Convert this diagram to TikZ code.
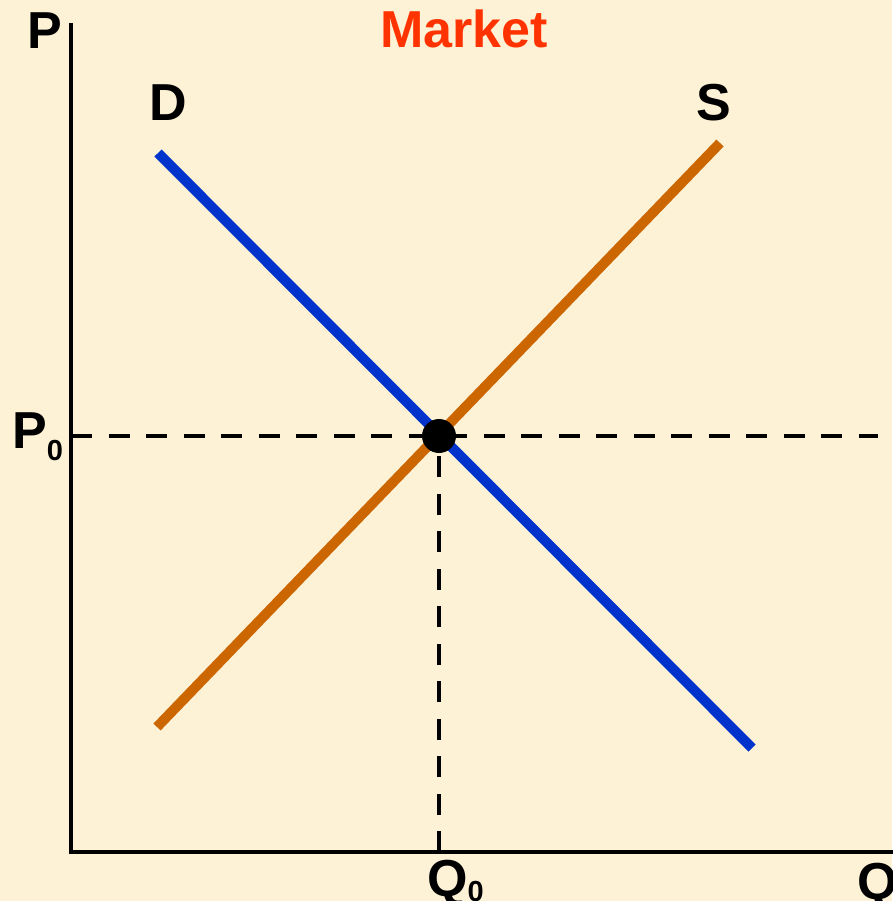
\documentclass[tikz,border=0pt]{standalone}
\usepackage{fontspec}
\setmainfont{Liberation Sans}
\definecolor{bgc}{RGB}{253,241,214}
\definecolor{dblue}{RGB}{0,51,204}
\definecolor{sorange}{RGB}{204,102,0}
\definecolor{mkred}{RGB}{255,51,0}
\tikzset{
  axis/.style={line width=4pt, black},
  dcurve/.style={line width=10pt, dblue},
  scurve/.style={line width=10pt, sorange},
  guide/.style={line width=3.5pt, black, dash pattern=on 21pt off 16.5pt},
  lbl/.style={inner sep=0pt, font=\fontsize{52}{52}\selectfont\bfseries},
}
\newcommand{\subz}[1]{\raisebox{-#1}{\fontsize{29}{29}\selectfont 0}}
\begin{document}
\begin{tikzpicture}[x=1pt,y=-1pt]
\fill[bgc] (0,0) rectangle (892,901);
\useasboundingbox (0,0) rectangle (892,901);
% axes
\coordinate (ytop) at (71,23);
\coordinate (orig) at (71,852);
\coordinate (xend) at (894,852);
\draw[axis] (ytop) -- (orig) -- (xend);
% equilibrium
\coordinate (E) at (439,436);
\coordinate (p0) at (71,436);
\coordinate (pend) at (878,436);
\coordinate (q0) at (439,852);
\draw[guide] (p0) -- (pend);
\draw[guide] (q0) -- (E);
% curves
\coordinate (d1) at (158,153);
\coordinate (d2) at (752,748);
\coordinate (s1) at (157,727);
\coordinate (s2) at (720,143);
\draw[scurve] (s1) -- (s2);
\draw[dcurve] (d1) -- (d2);
\node[circle, fill=black, minimum size=34pt, inner sep=0pt] (eq) at (E) {};
% labels
\node[lbl, anchor=base west] (P) at (27,49) {P};
\node[lbl, anchor=base, text=mkred] (mk) at (464,48) {Market};
\node[lbl, anchor=base] (D) at (168,121) {D};
\node[lbl, anchor=base] (S) at (714,121) {S};
\node[lbl, anchor=base west] (P0) at (12,448) {P\subz{12pt}};
\node[lbl, anchor=base west] (Q0) at (427,896) {Q\subz{5pt}};
\node[lbl, anchor=base west] (Q) at (857,899) {Q};
\end{tikzpicture}
\end{document}
